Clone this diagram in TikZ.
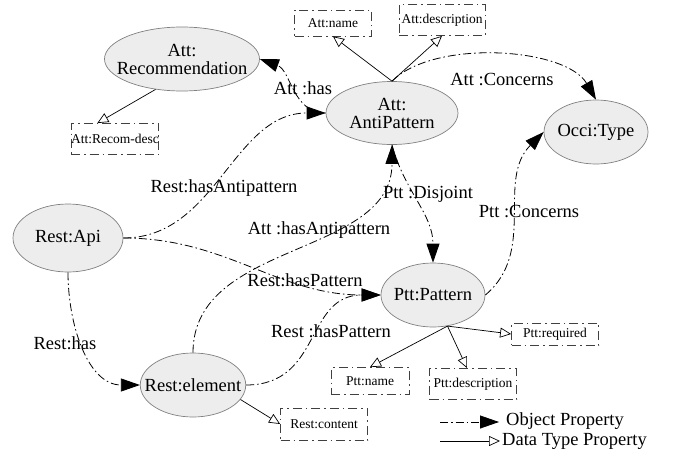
\documentclass[tikz,border=0pt]{standalone}
\usepackage{amsmath}
\usepackage{fontspec}
\setmainfont{Liberation Serif}
\usetikzlibrary{shapes,arrows.meta}

\definecolor{ellfill}{HTML}{EDEDED}
\definecolor{ellline}{HTML}{808080}
\definecolor{boxline}{HTML}{404040}

\begin{document}
\begin{tikzpicture}[x=1pt,y=1pt,
	class/.style={ellipse,draw=ellline,fill=ellfill,line width=0.7pt,inner xsep=-11pt,inner ysep=0pt,minimum height=64pt,align=center,font=\fontsize{18.5}{18}\selectfont},
	attr/.style={rectangle,draw=boxline,line width=0.8pt,dash pattern=on 9pt off 4pt on 1.5pt off 4pt,inner sep=0pt,font=\fontsize{13.5}{14}\selectfont},
	objprop/.style={draw=black,line width=0.8pt,dash pattern=on 8pt off 3pt on 1.5pt off 3pt,-{Triangle[length=19pt,width=13pt]}},
	dataprop/.style={draw=black,line width=0.7pt,-{Triangle[open,length=11pt,width=10pt]}},
	lbl/.style={font=\fontsize{18.5}{18}\selectfont,inner sep=0pt}]
	\useasboundingbox (0,0) rectangle (678,-458);
	% classes
	\node [class,minimum width=155pt] (rec) at (182,-59) {Att:\\Recommendation};
	\node [class,minimum width=132pt,minimum height=63pt] (ap) at (392,-113) {Att:\\AntiPattern};
	\node [class,minimum width=104pt] (occi) at (596,-132) {Occi:Type};
	\node [class,minimum width=110pt,minimum height=68pt] (api) at (68,-238) {Rest:Api};
	\node [class,minimum width=105pt] (elem) at (193,-385) {Rest:element};
	\node [class,minimum width=104pt] (pat) at (433,-295) {Ptt:Pattern};
	% data type boxes
	\node [attr,minimum width=77pt,minimum height=26pt] (aname) at (333,-23) {Att:name};
	\node [attr,minimum width=86pt,minimum height=31pt] (adesc) at (442,-20) {Att:description};
	\node [attr,minimum width=86pt,minimum height=31pt] (recdesc) at (115,-139) {Att:Recom-desc};
	\node [attr,minimum width=87pt,minimum height=22pt] (preq) at (555,-334) {Ptt:required};
	\node [attr,minimum width=78pt,minimum height=27pt] (pname) at (370,-381) {Ptt:name};
	\node [attr,minimum width=87pt,minimum height=31pt] (pdesc) at (473,-384) {Ptt:description};
	\node [attr,minimum width=87pt,minimum height=32pt] (rcont) at (324,-424) {Rest:content};
	% object properties
	\draw [objprop] (ap.west) to[out=180,in=-20] (rec.east);
	\draw (303,-88) node [lbl] (lhas) {Att :has};
	\draw [objprop] (api.east) to[out=0,in=180] (ap.west);
	\draw (224,-188) node [lbl] (lhasap) {Rest:hasAntipattern};
	\draw [objprop] (api.east) to[out=0,in=180] (pat.west);
	\draw (305,-280) node [lbl] (lhaspat) {Rest:hasPattern};
	\draw [objprop] (elem.north) to[out=90,in=-90] (ap.south);
	\draw (319,-230) node [lbl] (lelemap) {Att :hasAntipattern};
	\draw [objprop] (ap.south) to[out=-75,in=90] (pat.north);
	\draw (428,-194) node [lbl] (ldisj) {Ptt :Disjoint};
	\draw [objprop] (elem.east) to[out=0,in=180,looseness=1.2] (pat.west);
	\draw (331,-331) node [lbl] (lelempat) {Rest :hasPattern};
	\draw [objprop] (api.south) to[out=-90,in=180] (elem.west);
	\draw (65,-343) node [lbl] (lrhas) {Rest:has};
	\draw [objprop] (ap.north) to[out=45,in=120,looseness=0.75] (occi.north);
	\draw (502,-80) node [lbl] (laconc) {Att :Concerns};
	\draw [objprop] (pat.east) to[out=40,in=-135] (occi.west);
	\draw (529,-212) node [lbl] (lpconc) {Ptt :Concerns};
	% data type properties
	\draw [dataprop] (rec.-131) -- (recdesc.138);
	\draw [dataprop] (ap.north) -- (aname.south);
	\draw [dataprop] (ap.north) -- (adesc.south);
	\draw [dataprop] (elem.-17) -- (rcont.west);
	\coordinate (patd) at (pat.-65);
	\draw [dataprop] (patd) -- (preq.west);
	\draw [dataprop] (patd) -- (pname.north);
	\draw [dataprop] (patd) -- ([xshift=-6pt]pdesc.north);
	% legend
	\coordinate (lo1) at (440,-422);
	\coordinate (lo2) at (499,-422);
	\draw [objprop] (lo1) -- (lo2);
	\node [lbl,anchor=west] (lobj) at (506,-421) {Object Property};
	\coordinate (ld1) at (440,-441);
	\coordinate (ld2) at (500,-441);
	\draw [dataprop] (ld1) -- (ld2);
	\node [lbl,anchor=west] (ldat) at (502,-441) {Data Type Property};
\end{tikzpicture}
\end{document}
